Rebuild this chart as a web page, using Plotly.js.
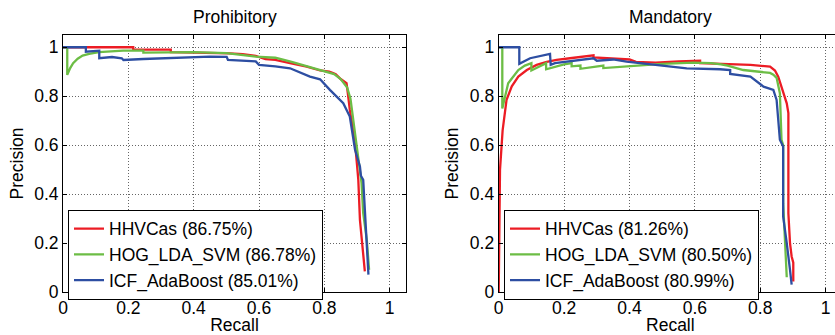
<!DOCTYPE html>
<html>
<head>
<meta charset="utf-8">
<script src="https://cdn.plot.ly/plotly-3.0.1.min.js"></script>
<style>
html,body{margin:0;padding:0;overflow:hidden;background:#fff;}
#chart{width:850px;height:335px;}
</style>
</head>
<body>
<div id="chart"></div>
<script>
// ---- Prohibitory ----
const prohHHVRecall = [0, 0.215, 0.215, 0.33, 0.33, 0.42, 0.511, 0.55, 0.59, 0.62, 0.65, 0.695, 0.746, 0.787, 0.815, 0.827, 0.835, 0.85, 0.868, 0.873, 0.878, 0.886, 0.894, 0.9, 0.904, 0.909, 0.914, 0.919, 0.924];
const prohHHVPrec   = [1.0, 1.0, 0.99, 0.99, 0.98, 0.978, 0.975, 0.972, 0.965, 0.951, 0.948, 0.935, 0.921, 0.905, 0.9, 0.894, 0.89, 0.87, 0.853, 0.8, 0.744, 0.68, 0.609, 0.52, 0.458, 0.295, 0.22, 0.145, 0.084];

const prohHOGRecall = [0, 0.013, 0.013, 0.022, 0.031, 0.045, 0.06, 0.08, 0.11, 0.184, 0.246, 0.246, 0.4, 0.5, 0.59, 0.65, 0.7, 0.75, 0.787, 0.83, 0.85, 0.87, 0.88, 0.889, 0.899, 0.914, 0.919, 0.93, 0.937];
const prohHOGPrec   = [1.0, 1.0, 0.887, 0.915, 0.935, 0.953, 0.966, 0.973, 0.98, 0.986, 0.986, 0.978, 0.98, 0.976, 0.962, 0.957, 0.94, 0.92, 0.907, 0.89, 0.87, 0.835, 0.79, 0.703, 0.594, 0.445, 0.322, 0.213, 0.091];

const prohICFRecall = [0, 0.07, 0.07, 0.111, 0.111, 0.15, 0.18, 0.185, 0.246, 0.3, 0.39, 0.45, 0.501, 0.505, 0.59, 0.6, 0.65, 0.695, 0.756, 0.787, 0.817, 0.858, 0.878, 0.894, 0.909, 0.912, 0.919, 0.924, 0.93, 0.935];
const prohICFPrec   = [1.0, 1.0, 0.982, 0.986, 0.955, 0.96, 0.955, 0.948, 0.952, 0.955, 0.96, 0.962, 0.961, 0.948, 0.942, 0.928, 0.922, 0.914, 0.88, 0.869, 0.826, 0.771, 0.717, 0.581, 0.513, 0.475, 0.458, 0.322, 0.186, 0.071];

// ---- Mandatory ----
const mandHHVRecall = [0, 0.004, 0.012, 0.024, 0.04, 0.06, 0.086, 0.116, 0.147, 0.177, 0.218, 0.27, 0.29, 0.29, 0.35, 0.4, 0.42, 0.48, 0.55, 0.616, 0.616, 0.7, 0.77, 0.83, 0.845, 0.855, 0.87, 0.881, 0.886, 0.886, 0.891, 0.896, 0.901, 0.901];
const mandHHVPrec   = [0, 0.5, 0.66, 0.785, 0.84, 0.88, 0.907, 0.928, 0.94, 0.948, 0.955, 0.962, 0.967, 0.958, 0.955, 0.95, 0.94, 0.937, 0.942, 0.945, 0.935, 0.932, 0.928, 0.921, 0.905, 0.88, 0.812, 0.771, 0.731, 0.322, 0.2, 0.145, 0.12, 0.043];

const mandHOGRecall = [0, 0.011, 0.011, 0.029, 0.06, 0.08, 0.1, 0.1, 0.145, 0.145, 0.2, 0.223, 0.223, 0.25, 0.25, 0.32, 0.32, 0.442, 0.5, 0.595, 0.65, 0.68, 0.7, 0.748, 0.8, 0.83, 0.84, 0.85, 0.86, 0.865, 0.87, 0.87, 0.876, 0.881];
const mandHOGPrec   = [1.0, 1.0, 0.75, 0.853, 0.907, 0.925, 0.935, 0.905, 0.935, 0.91, 0.93, 0.935, 0.922, 0.925, 0.912, 0.925, 0.915, 0.928, 0.932, 0.937, 0.935, 0.93, 0.925, 0.907, 0.9, 0.895, 0.888, 0.875, 0.812, 0.622, 0.6, 0.363, 0.2, 0.06];

const mandICFRecall = [0, 0.063, 0.063, 0.096, 0.157, 0.159, 0.172, 0.249, 0.29, 0.3, 0.35, 0.391, 0.473, 0.575, 0.677, 0.708, 0.708, 0.77, 0.81, 0.84, 0.85, 0.86, 0.87, 0.87, 0.881, 0.886, 0.891, 0.896];
const mandICFPrec   = [1.0, 1.0, 0.932, 0.955, 0.973, 0.928, 0.935, 0.948, 0.955, 0.945, 0.95, 0.941, 0.928, 0.914, 0.91, 0.907, 0.891, 0.88, 0.839, 0.826, 0.785, 0.622, 0.594, 0.309, 0.2, 0.132, 0.09, 0.03];

const labelsProh = ['HHVCas (86.75%)', 'HOG_LDA_SVM (86.78%)', 'ICF_AdaBoost (85.01%)'];
const labelsMand = ['HHVCas (81.26%)', 'HOG_LDA_SVM (80.50%)', 'ICF_AdaBoost (80.99%)'];
const colors = ['#ec1c24', '#6cbd45', '#2d4ea2'];
const tickVals = [0, 0.2, 0.4, 0.6, 0.8, 1];
const tickText = ['0', '0.2', '0.4', '0.6', '0.8', '1'];

const FONT = 'Liberation Sans, Arial, Helvetica, sans-serif';
const FS = 17.5;

function tr(x, y, name, color, xa, ya, leg) {
  return {x: x, y: y, name: name, type: 'scatter', mode: 'lines',
          line: {color: color, width: 2.3}, xaxis: xa, yaxis: ya, legend: leg};
}

const data = [
  tr(prohHHVRecall, prohHHVPrec, labelsProh[0], colors[0], 'x', 'y', 'legend'),
  tr(prohHOGRecall, prohHOGPrec, labelsProh[1], colors[1], 'x', 'y', 'legend'),
  tr(prohICFRecall, prohICFPrec, labelsProh[2], colors[2], 'x', 'y', 'legend'),
  tr(mandHHVRecall, mandHHVPrec, labelsMand[0], colors[0], 'x2', 'y2', 'legend2'),
  tr(mandHOGRecall, mandHOGPrec, labelsMand[1], colors[1], 'x2', 'y2', 'legend2'),
  tr(mandICFRecall, mandICFPrec, labelsMand[2], colors[2], 'x2', 'y2', 'legend2')
];

const W = 850, H = 335;
function axis(extra) {
  return Object.assign({
    range: [0, 1.05], tickvals: tickVals, ticktext: tickText,
    showline: true, mirror: 'ticks', linecolor: '#000', linewidth: 1,
    ticks: 'inside', ticklen: 4, tickcolor: '#000',
    showgrid: true, gridcolor: '#666', griddash: '1px,2px', gridwidth: 1,
    zeroline: false, fixedrange: true,
    tickfont: {family: FONT, size: FS, color: '#000'}
  }, extra);
}
const legendBase = {
  bgcolor: '#fff', bordercolor: '#000', borderwidth: 1,
  font: {family: FONT, size: FS, color: '#000'},
  xanchor: 'left', yanchor: 'top', tracegroupgap: 0
};

const layout = {
  width: W, height: H,
  margin: {l: 0, r: 0, t: 35, b: 43},
  paper_bgcolor: '#fff', plot_bgcolor: '#fff',
  font: {family: FONT, size: FS, color: '#000'},
  showlegend: true,
  xaxis: axis({domain: [63 / W, 406 / W], anchor: 'y',
    title: {text: 'Recall', font: {family: FONT, size: FS}, standoff: 2}}),
  yaxis: axis({domain: [0, 1], anchor: 'x',
    title: {text: 'Precision', font: {family: FONT, size: FS}, standoff: 6}}),
  xaxis2: axis({domain: [498.7 / W, 842 / W], anchor: 'y2',
    title: {text: 'Recall', font: {family: FONT, size: FS}, standoff: 2}}),
  yaxis2: axis({domain: [0, 1], anchor: 'x2',
    title: {text: 'Precision', font: {family: FONT, size: FS}, standoff: 6}}),
  legend: Object.assign({x: 68 / W, y: 0.32}, legendBase),
  legend2: Object.assign({x: 504 / W, y: 0.32}, legendBase),
  annotations: [
    {text: 'Prohibitory', xref: 'paper', yref: 'paper', x: 234.5 / W, y: 1, yshift: 18,
     xanchor: 'center', yanchor: 'middle', showarrow: false, font: {family: FONT, size: FS, color: '#000'}},
    {text: 'Mandatory', xref: 'paper', yref: 'paper', x: 670 / W, y: 1, yshift: 18,
     xanchor: 'center', yanchor: 'middle', showarrow: false, font: {family: FONT, size: FS, color: '#000'}}
  ]
};

Plotly.newPlot('chart', data, layout, {staticPlot: true, displayModeBar: false});
</script>
</body>
</html>
